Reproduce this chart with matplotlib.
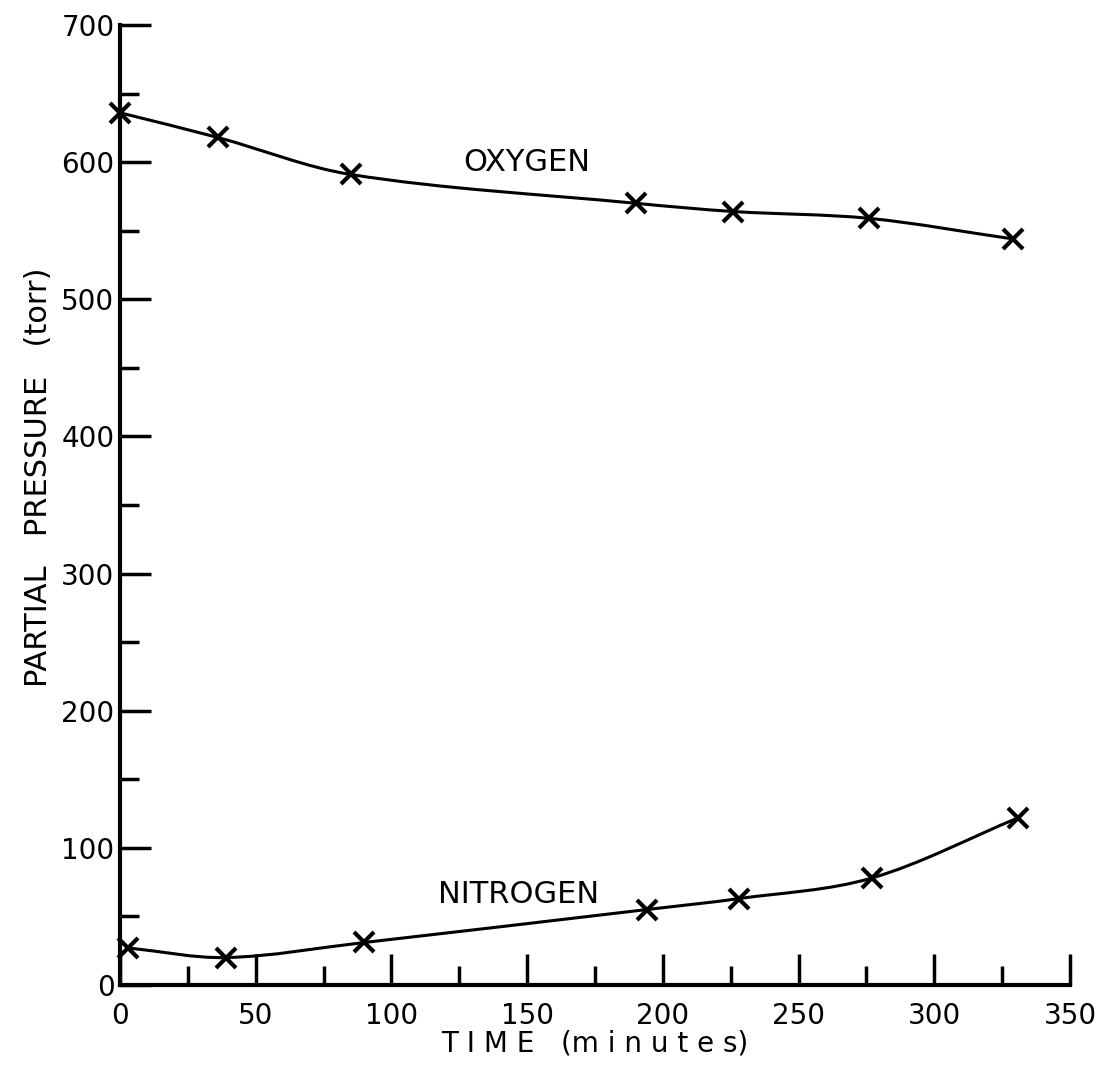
import matplotlib.pyplot as plt
import numpy as np
from matplotlib.path import Path
from matplotlib.patches import PathPatch

# data
oxy_t = [0, 36, 85, 190, 226, 276, 329]
oxy_p = [636, 618, 591, 570, 564, 559, 544]
nit_t = [3, 39, 90, 194, 228, 277, 331]
nit_p = [27, 20, 31, 55, 63, 78, 122]

plt.rcParams['font.family'] = ['DejaVu Sans']


def smooth_path(xs, ys):
    # hermite curve through the points, drawn as bezier segments
    x = np.asarray(xs, float)
    y = np.asarray(ys, float)
    n = len(x)
    m = np.empty(n)
    m[0] = (y[1] - y[0]) / (x[1] - x[0])
    m[-1] = (y[-1] - y[-2]) / (x[-1] - x[-2])
    m[1:-1] = (y[2:] - y[:-2]) / (x[2:] - x[:-2])
    verts = [(x[0], y[0])]
    codes = [Path.MOVETO]
    for i in range(n - 1):
        dx = x[i + 1] - x[i]
        verts += [(x[i] + dx / 3, y[i] + m[i] * dx / 3),
                  (x[i + 1] - dx / 3, y[i + 1] - m[i + 1] * dx / 3),
                  (x[i + 1], y[i + 1])]
        codes += [Path.CURVE4] * 3
    return Path(verts, codes)


fig = plt.figure(figsize=(11.03, 10.74), dpi=100)
ax = fig.add_axes([120 / 1103, 89 / 1074, 950 / 1103, 960 / 1074])

for xs, ys in [(oxy_t, oxy_p), (nit_t, nit_p)]:
    ax.add_patch(PathPatch(smooth_path(xs, ys), fill=False, lw=2.2,
                           color='black', clip_on=False))
    ax.plot(xs, ys, 'x', color='black', ms=14, mew=3, clip_on=False)

ax.set_xlim(0, 350)
ax.set_ylim(0, 700)
for s in ['top', 'right']:
    ax.spines[s].set_visible(False)
for s in ['left', 'bottom']:
    ax.spines[s].set_linewidth(3)

ax.set_xticks(np.arange(0, 351, 50))
ax.set_xticks(np.arange(25, 350, 50), minor=True)
ax.set_yticks(np.arange(0, 701, 100))
ax.set_yticks(np.arange(50, 700, 100), minor=True)
ax.tick_params(which='major', direction='in', length=22, width=2.5,
               labelsize=20, pad=12)
ax.tick_params(which='minor', direction='in', length=14, width=2.5)
ax.tick_params(axis='y', pad=4)

ax.text(150, 600, 'OXYGEN', fontsize=22, ha='center', va='center')
ax.text(147, 66, 'NITROGEN', fontsize=22, ha='center', va='center')

ax.set_xlabel('T I M E   (m i n u t e s)', fontsize=20, labelpad=0)
ax.set_ylabel('PARTIAL   PRESSURE   (torr)', fontsize=22)
ax.yaxis.set_label_coords(-0.07, 0.529)

plt.savefig('out.png', dpi=100)
